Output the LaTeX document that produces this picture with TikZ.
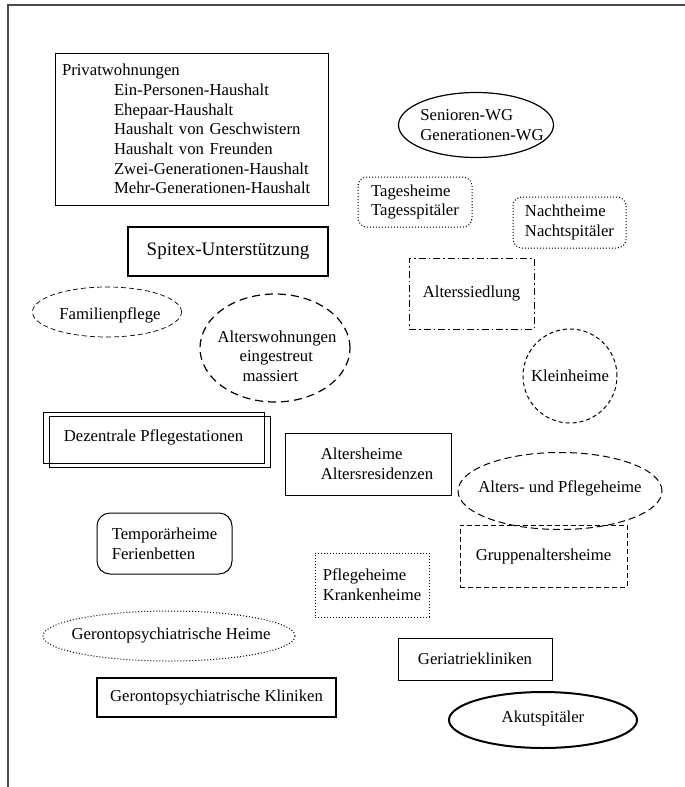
\documentclass[tikz,border=0pt]{standalone}
\usepackage{fontspec}
\setmainfont{Liberation Serif}
\usetikzlibrary{shapes.geometric,shadows}

\tikzset{
  plainbox/.style={draw, line width=1pt, align=left},
  heavybox/.style={draw, line width=2.6pt, align=left},
  dotbox/.style={draw, dotted, line width=1pt, align=left},
  dashbox/.style={draw, dash pattern=on 5pt off 3pt, line width=1pt, align=left},
  oval/.style={draw, ellipse, line width=1pt},
  ovaltext/.style={align=left, inner sep=0pt},
}

\begin{document}
\begin{tikzpicture}[x=1pt, y=-1pt, font=\fontsize{16.7}{19.7}\selectfont]
\useasboundingbox[fill=white] (0,0) rectangle (685,787);
% page frame
\draw[black!70, line width=1.6pt] (685,5) -- (8,5) -- (8,787);

% left column
\node[plainbox, text width=259pt, inner xsep=7pt, minimum height=152pt] (privat) at (191.5,129)
  {Privatwohnungen\\
   \hspace*{52pt}Ein-Personen-Haushalt\\
   \hspace*{52pt}Ehepaar-Haushalt\\
   \hspace*{52pt}Haushalt von Geschwistern\\
   \hspace*{52pt}Haushalt von Freunden\\
   \hspace*{52pt}Zwei-Generationen-Haushalt\\
   \hspace*{52pt}Mehr-Generationen-Haushalt};
\node[heavybox, minimum width=200pt, minimum height=49pt, font=\fontsize{19}{22}\selectfont] (spitex) at (228,251.5) {Spitex-Unterstützung};
\node[oval, line width=0.7pt, dash pattern=on 5pt off 3pt, minimum width=149pt, minimum height=50pt,
  label={[ovaltext, name=familie-t, xshift=3pt, yshift=-3pt]center:Familienpflege}] (familie) at (107,312) {};
\node[oval, line width=1.2pt, dash pattern=on 8pt off 5pt, minimum width=150pt, minimum height=108pt,
  label={[ovaltext, name=alterswhg-t, xshift=2pt, yshift=-8pt]center:Alterswohnungen\\\hspace*{22pt}eingestreut\\\hspace*{25pt}massiert}] (alterswhg) at (275,348) {};
\node[plainbox, minimum width=221pt, minimum height=51pt,
  copy shadow={shadow xshift=6pt, shadow yshift=-4pt, fill=white, draw=black, line width=1pt}] (dezentral) at (153.5,437.5) {Dezentrale Pflegestationen};
\node[plainbox, rounded corners=13pt, minimum width=135pt, minimum height=61pt] (temporaer) at (164.5,543.5) {Temporärheime\\Ferienbetten};
\node[oval, dotted, minimum width=252pt, minimum height=50pt,
  label={[ovaltext, name=gerontoheim-t, xshift=2pt]center:Gerontopsychiatrische Heime}] (gerontoheim) at (169,636) {};
\node[plainbox, line width=1.4pt, minimum width=239pt, minimum height=39pt] (gerontoklinik) at (216.5,697.5) {Gerontopsychiatrische Kliniken};

% middle and right column
\node[oval, line width=1.2pt, minimum width=155pt, minimum height=65pt,
  label={[ovaltext, name=seniorwg-t, xshift=6pt]center:Senioren-WG\\Generationen-WG}] (seniorwg) at (476,125) {};
\node[dotbox, rounded corners=9pt, minimum width=114pt, minimum height=50pt] (tagesheim) at (415,202) {Tagesheime\\Tagesspitäler};
\node[dotbox, rounded corners=9pt, minimum width=113pt, minimum height=51pt] (nachtheim) at (569.5,222.5) {Nachtheime\\Nachtspitäler};
\node[plainbox, dash pattern=on 7pt off 3pt on 1.5pt off 3pt, minimum width=125pt, minimum height=71pt] (siedlung) at (471.5,293.5) {Alterssiedlung};
\node[draw, circle, dash pattern=on 4pt off 3pt, line width=1pt, minimum size=94pt] (kleinheim) at (570,376) {Kleinheime};
\node[plainbox, minimum width=166pt, minimum height=62pt,
  label={[ovaltext, name=altersheim-t, xshift=9pt]center:Altersheime\\Altersresidenzen}] (altersheim) at (368,464) {};
\node[oval, dash pattern=on 7pt off 4pt, minimum width=204pt, minimum height=77pt,
  label={[ovaltext, name=pflegeheime-t, yshift=3pt]center:Alters- und Pflegeheime}] (pflegeheime) at (560,491) {};
\node[dashbox, minimum width=167pt, minimum height=62pt] (gruppen) at (543.5,556) {Gruppenaltersheime};
\node[dotbox, minimum width=114pt, minimum height=64pt] (krankenheim) at (372,585) {Pflegeheime\\Krankenheime};
\node[plainbox, minimum width=154pt, minimum height=42pt] (geriatrie) at (475,659) {Geriatriekliniken};
\node[oval, line width=2pt, minimum width=188pt, minimum height=56pt,
  label={[ovaltext, name=akut-t, yshift=2pt]center:Akutspitäler}] (akut) at (543,720) {};
\end{tikzpicture}
\end{document}
